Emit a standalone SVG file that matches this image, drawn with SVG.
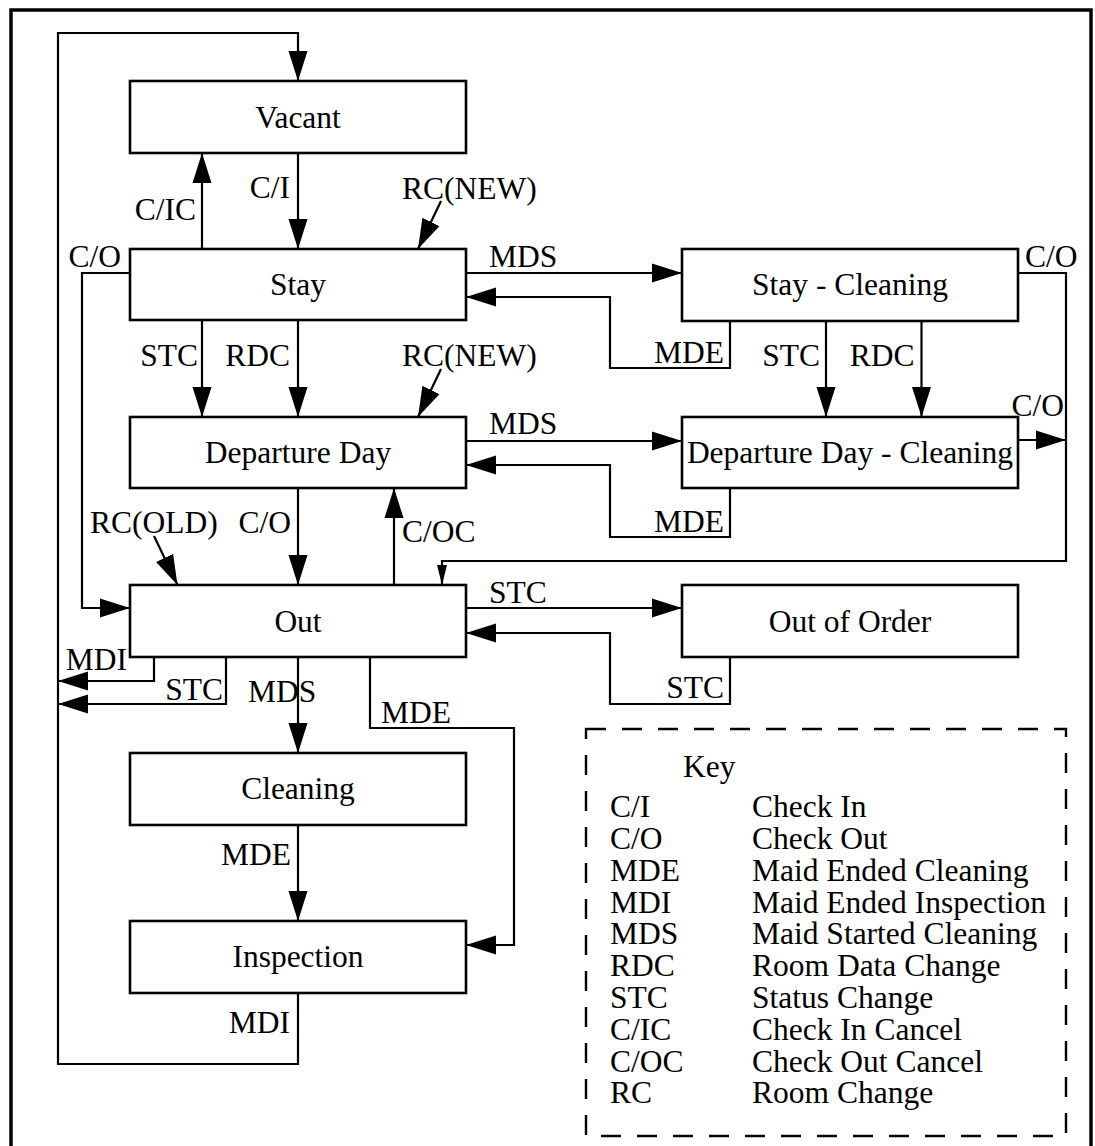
<svg xmlns="http://www.w3.org/2000/svg" width="1095" height="1146" viewBox="0 0 1095 1146">
<style>
text{font-family:"Liberation Serif","Times New Roman",serif;font-size:31.5px;fill:#000}
.box{fill:#fff;stroke:#000;stroke-width:2.6}
.nl{text-anchor:middle}
.e{text-anchor:end}
.c{fill:none;stroke:#000;stroke-width:2.2}
.a{marker-end:url(#ah)}
.s{marker-end:url(#ahs)}
</style>
<defs>
<marker id="ah" markerUnits="userSpaceOnUse" markerWidth="30" markerHeight="20" refX="30" refY="10" orient="auto" viewBox="0 0 30 20">
<path d="M0,0.5 L30,10 L0,19.5 Z" fill="#000"/>
</marker>
<marker id="ahs" markerUnits="userSpaceOnUse" markerWidth="20" markerHeight="12" refX="20" refY="6" orient="auto" viewBox="0 0 20 12">
<path d="M0,1 L20,6 L0,11 Z" fill="#000"/>
</marker>
</defs>
<rect x="11" y="10" width="1080" height="1150" fill="#fff" stroke="#000" stroke-width="3.5"/>

<g id="connectors">
<path class="c a" d="M298,993 V1064 H58 V33 H298 V81"/>
<path class="c a" d="M298,153 V249"/>
<path class="c a" d="M202,249 V153"/>
<path class="c a" d="M441,201 L418,249"/>
<path class="c a" d="M130,273 H82 V608 H130"/>
<path class="c a" d="M466,273 H682"/>
<path class="c a" d="M730,321 V368 H610 V297 H466"/>
<path class="c a" d="M202,320 V417"/>
<path class="c a" d="M298,320 V417"/>
<path class="c a" d="M441,369 L418,417"/>
<path class="c a" d="M826,321 V417"/>
<path class="c a" d="M921.5,321 V417"/>
<path class="c s" d="M1018,273 H1066 V561 H442 V585"/>
<path class="c a" d="M466,441 H682"/>
<path class="c a" d="M730,488 V537 H610 V465 H466"/>
<path class="c a" d="M1018,440 H1066"/>
<path class="c a" d="M298,488 V585"/>
<path class="c a" d="M394,585 V488"/>
<path class="c a" d="M154,536 L177.5,585"/>
<path class="c a" d="M466,608 H682"/>
<path class="c a" d="M730,657 V704 H610 V633 H466"/>
<path class="c a" d="M154,657 V681 H58"/>
<path class="c a" d="M226,657 V704 H58"/>
<path class="c a" d="M298,657 V753"/>
<path class="c a" d="M370,657 V728 H514 V945 H466"/>
<path class="c a" d="M298,825 V921"/>
</g>

<g id="labels">
<text x="196" y="220" class="e">C/IC</text>
<text x="290" y="198" class="e">C/I</text>
<text x="402" y="199">RC(NEW)</text>
<text x="121" y="267" class="e">C/O</text>
<text x="489" y="267">MDS</text>
<text x="1025" y="267">C/O</text>
<text x="198" y="366" class="e">STC</text>
<text x="290" y="366" class="e">RDC</text>
<text x="402" y="366">RC(NEW)</text>
<text x="724" y="363" class="e">MDE</text>
<text x="820" y="366" class="e">STC</text>
<text x="914.5" y="366" class="e">RDC</text>
<text x="489" y="434">MDS</text>
<text x="1064" y="416" class="e">C/O</text>
<text x="724" y="532" class="e">MDE</text>
<text x="90" y="533">RC(OLD)</text>
<text x="291" y="533" class="e">C/O</text>
<text x="402" y="542">C/OC</text>
<text x="489" y="603">STC</text>
<text x="127" y="670" class="e">MDI</text>
<text x="223" y="700" class="e">STC</text>
<text x="248" y="702">MDS</text>
<text x="381" y="723">MDE</text>
<text x="724" y="698" class="e">STC</text>
<text x="291" y="865" class="e">MDE</text>
<text x="290" y="1033" class="e">MDI</text>
</g>

<g id="vacant"><rect class="box" x="130" y="81" width="336" height="72"/><text class="nl" x="298" y="128">Vacant</text></g>
<g id="stay"><rect class="box" x="130" y="249" width="336" height="71"/><text class="nl" x="298" y="295">Stay</text></g>
<g id="stay-cleaning"><rect class="box" x="682" y="249" width="336" height="72"/><text class="nl" x="850" y="295">Stay - Cleaning</text></g>
<g id="departure-day"><rect class="box" x="130" y="417" width="336" height="71"/><text class="nl" x="298" y="463">Departure Day</text></g>
<g id="departure-day-cleaning"><rect class="box" x="682" y="417" width="336" height="71"/><text class="nl" x="850" y="463">Departure Day - Cleaning</text></g>
<g id="out"><rect class="box" x="130" y="585" width="336" height="72"/><text class="nl" x="298" y="632">Out</text></g>
<g id="out-of-order"><rect class="box" x="682" y="585" width="336" height="72"/><text class="nl" x="850" y="632">Out of Order</text></g>
<g id="cleaning"><rect class="box" x="130" y="753" width="336" height="72"/><text class="nl" x="298" y="799">Cleaning</text></g>
<g id="inspection"><rect class="box" x="130" y="921" width="336" height="72"/><text class="nl" x="298" y="967">Inspection</text></g>

<g id="key">
<rect x="586" y="729" width="480" height="407" fill="none" stroke="#000" stroke-width="2.4" stroke-dasharray="20 16"/>
<text x="683" y="777">Key</text>
<text x="610" y="817">C/I</text><text x="752" y="817">Check In</text>
<text x="610" y="849">C/O</text><text x="752" y="849">Check Out</text>
<text x="610" y="881">MDE</text><text x="752" y="881">Maid Ended Cleaning</text>
<text x="610" y="912.5">MDI</text><text x="752" y="912.5">Maid Ended Inspection</text>
<text x="610" y="944">MDS</text><text x="752" y="944">Maid Started Cleaning</text>
<text x="610" y="976">RDC</text><text x="752" y="976">Room Data Change</text>
<text x="610" y="1008">STC</text><text x="752" y="1008">Status Change</text>
<text x="610" y="1040">C/IC</text><text x="752" y="1040">Check In Cancel</text>
<text x="610" y="1071.5">C/OC</text><text x="752" y="1071.5">Check Out Cancel</text>
<text x="610" y="1103">RC</text><text x="752" y="1103">Room Change</text>
</g>
</svg>
